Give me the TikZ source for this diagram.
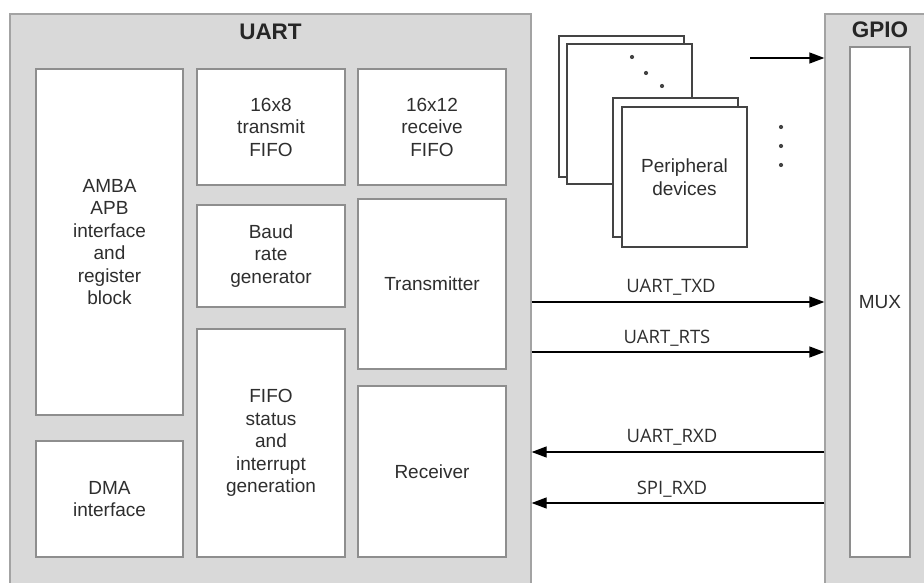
\documentclass[tikz,border=0pt]{standalone}
\usepackage{fontspec}
\setmainfont{Liberation Sans}
\newfontfamily\labelfont{Open Sans}
\usetikzlibrary{arrows.meta}

\definecolor{panel}{HTML}{D9D9D9}
\definecolor{edge}{HTML}{8E8E8E}
\definecolor{frame}{HTML}{A3A3A3}
\definecolor{ink}{HTML}{2E2E2E}
\definecolor{sheet}{HTML}{444444}

\begin{document}
\begin{tikzpicture}[x=1pt,y=-1pt,
  block/.style={draw=edge, line width=1.3pt, fill=white, text=ink, align=center,
    inner sep=0pt, font=\fontsize{19}{22.5}\selectfont},
  container/.style={draw=frame, line width=1.3pt, fill=panel, inner sep=0pt},
  title/.style={font=\fontsize{22.5}{24}\selectfont\bfseries, text=black!85},
  sheetbox/.style={draw=sheet, line width=1.6pt, fill=white, inner sep=0pt,
    minimum width=125pt, text=ink, align=center, font=\fontsize{19}{22.5}\selectfont},
  sig/.style={draw=black, line width=1.3pt, -{Triangle[length=15pt,width=11pt]}},
  siglabel/.style={font=\labelfont\fontsize{18.5}{20}\selectfont, text=ink},
  dot/.style={circle, fill=sheet, inner sep=0pt, minimum size=4.2pt}
]
\useasboundingbox (0,0) rectangle (924,583);
\fill[white] (0,0) rectangle (924,583);
\clip (0,0) rectangle (924,583);

% outer blocks
\node[container, minimum width=521pt, minimum height=596pt] (uart) at (270.5,312) {};
\node[title] (uarttitle) at (270.5,32) {UART};
\node[container, minimum width=111pt, minimum height=596pt] (gpio) at (880.5,312) {};
\node[title] (gpiotitle) at (880,30) {GPIO};

% UART internals
\node[block, minimum width=147pt, minimum height=346pt] (amba) at (109.5,242)
  {AMBA\\APB\\interface\\and\\register\\block};
\node[block, minimum width=147pt, minimum height=116pt] (dma) at (109.5,499)
  {DMA\\interface};
\node[block, minimum width=148pt, minimum height=116pt] (txfifo) at (271,127)
  {16x8\\transmit\\FIFO};
\node[block, minimum width=148pt, minimum height=102pt] (baud) at (271,256)
  {Baud\\rate\\generator};
\node[block, minimum width=148pt, minimum height=228pt] (fifostat) at (271,443)
  {FIFO\\status\\and\\interrupt\\generation};
\node[block, minimum width=148pt, minimum height=116pt] (rxfifo) at (432,127)
  {16x12\\receive\\FIFO};
\node[block, minimum width=148pt, minimum height=170pt] (trans) at (432,284)
  {Transmitter};
\node[block, minimum width=148pt, minimum height=171pt] (recv) at (432,471.5)
  {Receiver};

% GPIO multiplexer
\node[block, minimum width=60pt, minimum height=510pt] (mux) at (880,302) {MUX};

% stacked peripheral sheets
\node[sheetbox, minimum height=141pt] (sheetA) at (621.5,106.5) {};
\node[sheetbox, minimum height=140pt] (sheetB) at (629.5,114) {};
\node[sheetbox, minimum height=139pt] (sheetC) at (675.5,167.5) {};
\node[sheetbox, minimum height=140pt] (periph) at (684.5,177) {Peripheral\\devices};

\node[dot] (d1) at (632,57) {};
\node[dot] (d2) at (646,73) {};
\node[dot] (d3) at (662,86) {};
\node[dot] (d4) at (781,127) {};
\node[dot] (d5) at (781,146) {};
\node[dot] (d6) at (781,165) {};

% signal rows
\coordinate (feed) at (750,58);
\coordinate (txd) at (0,302);
\coordinate (rts) at (0,352);
\coordinate (rxd) at (0,452);
\coordinate (spi) at (0,503);

\draw[sig] (feed) -- (feed -| gpio.west);
\draw[sig] (txd -| uart.east) -- (txd -| gpio.west);
\draw[sig] (rts -| uart.east) -- (rts -| gpio.west);
\draw[sig] (rxd -| gpio.west) -- (rxd -| uart.east);
\draw[sig] (spi -| gpio.west) -- (spi -| uart.east);

\node[siglabel] (ltxd) at (671,287) {UART\_TXD};
\node[siglabel] (lrts) at (667,338) {UART\_RTS};
\node[siglabel] (lrxd) at (672,437) {UART\_RXD};
\node[siglabel] (lspi) at (672,489) {SPI\_RXD};
\end{tikzpicture}
\end{document}
